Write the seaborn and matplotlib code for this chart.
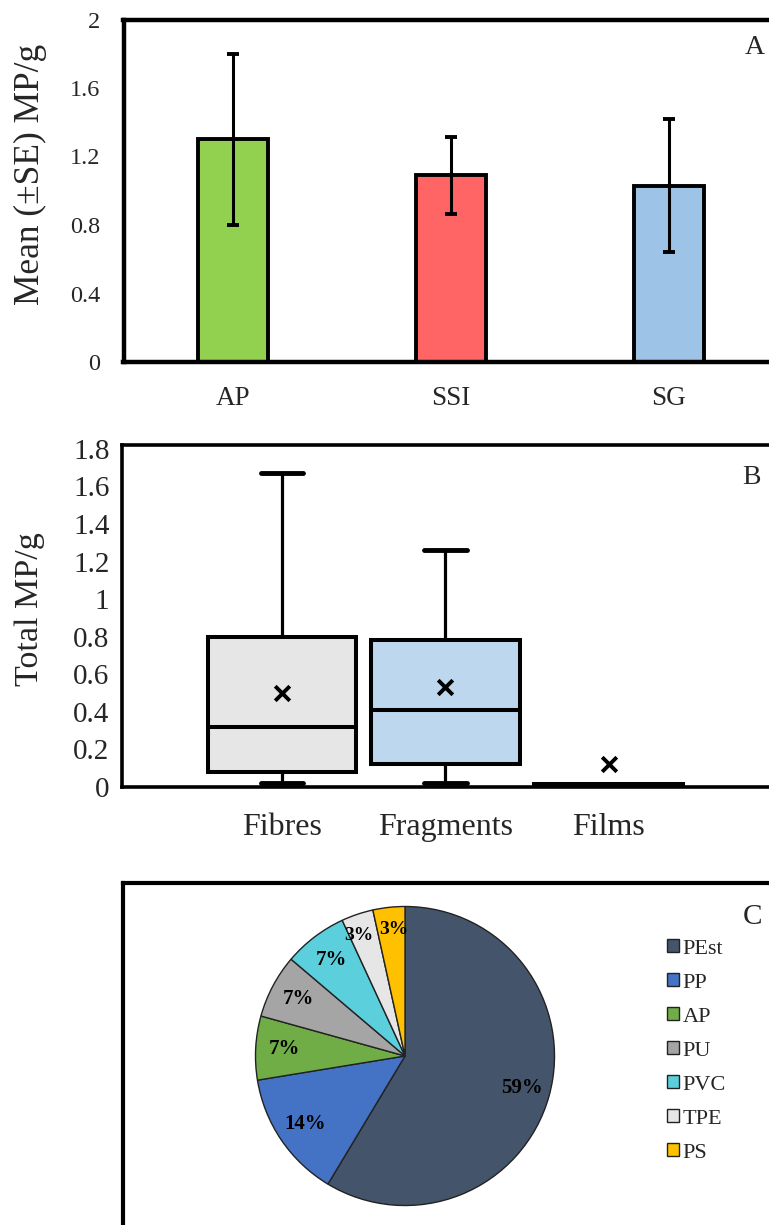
import numpy as np
import pandas as pd
import matplotlib
matplotlib.use("Agg")
import matplotlib.pyplot as plt
import seaborn as sns

# ---------------- data ----------------
# Panel A: mean (±SE) MP/g per site
sites = ["AP", "SSI", "SG"]
site_means = [1.30, 1.09, 1.03]
site_se = [0.50, 0.225, 0.39]
site_colors = ["#92D050", "#FF6565", "#9DC3E6"]
a_yticks = [0, 0.4, 0.8, 1.2, 1.6, 2]
a_yticklabels = ["0", "0.4", "0.8", "1.2", "1.6", "2"]

# Panel B: box summaries (min, Q1, median, Q3, max) and means
shapes = ["Fibres", "Fragments", "Films"]
fibres_stats = [0.02, 0.08, 0.32, 0.80, 1.67]
fragments_stats = [0.02, 0.12, 0.41, 0.78, 1.26]
films_stats = [0.005, 0.005, 0.01, 0.015, 0.015]
shape_means = [0.50, 0.53, 0.12]
shape_colors = ["#E7E6E6", "#BDD7EE", "#DDDDDD"]
b_yticks = [0, 0.2, 0.4, 0.6, 0.8, 1.0, 1.2, 1.4, 1.6, 1.8]
b_yticklabels = ["0", "0.2", "0.4", "0.6", "0.8", "1", "1.2", "1.4", "1.6", "1.8"]

# Panel C: polymer composition (counts)
polymers = ["PEst", "PP", "AP", "PU", "PVC", "TPE", "PS"]
polymer_counts = [17, 4, 2, 2, 2, 1, 1]
polymer_colors = ["#44546A", "#4472C4", "#70AD47", "#A5A5A5", "#5BCFDC", "#E7E6E6", "#FFC000"]

# ---------------- style ----------------
sns.set_style("white")
plt.rcParams["font.family"] = ["Liberation Serif", "DejaVu Serif"]

W, H = 769, 1225
fig = plt.figure(figsize=(W / 100, H / 100), dpi=100)


def fx(x):
    return x / W


def fy(y):
    return 1 - y / H


# ---------------- Panel A ----------------
axA = fig.add_axes([fx(123.5), fy(362), (778 - 123.5) / W, (362 - 19.5) / H])
sns.barplot(x=sites, y=site_means, hue=sites, palette=site_colors, width=0.32,
            edgecolor="black", linewidth=2.8, saturation=1, legend=False, ax=axA)
centers = [p.get_x() + p.get_width() / 2 for p in axA.patches]
heights = [p.get_height() for p in axA.patches]
axA.errorbar(centers, heights, yerr=site_se, fmt="none", ecolor="black",
             elinewidth=2.2, capsize=4, capthick=2.8, zorder=5)
axA.set_ylim(0, 2)
axA.set_xlim(-0.502, 2.5)
axA.set_yticks(a_yticks)
axA.set_yticklabels(a_yticklabels)
axA.tick_params(axis="y", direction="in", length=5, width=2.5, labelsize=17.5, pad=17)
axA.tick_params(axis="x", length=0, labelsize=19.5, pad=17)
axA.set_xlabel("")
axA.set_ylabel("")
for s in axA.spines.values():
    s.set_linewidth(3.2)
    s.set_color("black")
fig.text(fx(30), fy(174), "Mean (±SE) MP/g", rotation=90, ha="center", va="center", fontsize=25.5)
fig.text(fx(755), fy(47), "A", ha="center", va="center", fontsize=20)

# ---------------- Panel B ----------------
axB = fig.add_axes([fx(122), fy(787), 650 / W, (787 - 445) / H])
df = pd.DataFrame({
    "shape": np.repeat(shapes, 5),
    "value": fibres_stats + fragments_stats + films_stats,
})
sns.boxplot(data=df, x="shape", y="value", hue="shape", palette=shape_colors, order=shapes,
            width=0.91, whis=(0, 100), linecolor="black", linewidth=2.9, saturation=1,
            showfliers=False, legend=False, ax=axB,
            whiskerprops={"linewidth": 2.3}, capprops={"linewidth": 3.5},
            capwidths=0.26)
sns.scatterplot(x=shapes, y=shape_means, marker="x", s=110, color="black",
                linewidth=2.8, ax=axB, zorder=6)
axB.set_ylim(0, 1.82)
axB.set_xlim(-0.98, 3.0)
axB.set_yticks(b_yticks)
axB.set_yticklabels(b_yticklabels)
axB.tick_params(axis="y", direction="in", length=4, width=2.5, labelsize=21, pad=9)
axB.tick_params(axis="x", length=0, labelsize=23, pad=19)
axB.set_xlabel("")
axB.set_ylabel("")
for s in axB.spines.values():
    s.set_linewidth(2.6)
    s.set_color("black")
fig.text(fx(30), fy(609), "Total MP/g", rotation=90, ha="center", va="center", fontsize=24.5)
fig.text(fx(751), fy(477), "B", ha="center", va="center", fontsize=20)

# ---------------- Panel C ----------------
frame = fig.add_axes([fx(123), -0.1, 1.0, fy(883) + 0.1])
frame.set_xticks([])
frame.set_yticks([])
frame.set_facecolor("none")
for s in frame.spines.values():
    s.set_linewidth(3)
    s.set_color("black")

axP = fig.add_axes([fx(405 - 151), fy(1056 + 151), 302 / W, 302 / H])
wedges, texts, autotexts = axP.pie(
    polymer_counts, colors=polymer_colors, startangle=90, counterclock=False,
    autopct="%1.0f%%", pctdistance=0.81,
    wedgeprops=dict(edgecolor="#222222", linewidth=1.0),
    textprops=dict(fontsize=15, fontweight="bold", color="black"))
# the two smallest slices sit side by side: push their labels slightly outward and apart
for t, dx in ((autotexts[5], -0.035), (autotexts[6], 0.02)):
    x, y = t.get_position()
    t.set_position((x * 1.05 + dx, y * 1.05))
    t.set_fontsize(14)
axP.set_xlim(-1.01, 1.01)
axP.set_ylim(-1.01, 1.01)

fig.legend(wedges, polymers, loc="upper left", bbox_to_anchor=(fx(667), fy(939)),
           frameon=False, fontsize=16, handlelength=0.55, handleheight=0.55,
           handletextpad=0.15, labelspacing=0.65, borderpad=0, borderaxespad=0)
fig.text(fx(753), fy(917), "C", ha="center", va="center", fontsize=21)

fig.savefig("out.png", dpi=100)
